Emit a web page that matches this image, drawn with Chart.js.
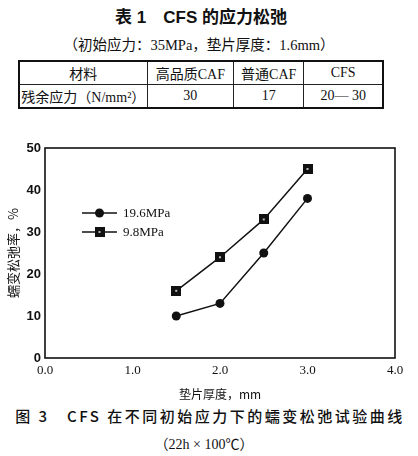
<!DOCTYPE html>
<html>
<head>
<meta charset="utf-8">
<script src="https://cdn.jsdelivr.net/npm/chart.js@4"></script>
<style>
  body { margin: 0; background: #fff; width: 418px; height: 456px; position: relative; overflow: hidden;
         font-family: "Liberation Serif", "Noto Sans CJK SC", serif; color: #111; }
  .t { position: absolute; left: 0; width: 418px; text-align: center; white-space: nowrap; }
  #tabTitle { top: 3px; left: -8px; font: 700 17px "Liberation Sans", "Noto Sans CJK SC", sans-serif; }
  #tabSub { top: 33px; left: -10px; font-size: 14.5px; }
  table { position: absolute; left: 18px; top: 60px; width: 366px; border-collapse: collapse; font-size: 14px; }
  td { border: 1px solid #222; height: 22px; padding: 0; text-align: center; white-space: nowrap; }
  tr:first-child td { border-top: 2px solid #111; }
  tr:last-child td { border-bottom: 2px solid #111; }
  td:first-child { border-left: 2px solid #111; }
  td:last-child { border-right: 2px solid #111; }
  #wrap { position: absolute; left: 0; top: 130px; width: 418px; height: 272px; }
  #cap1 { top: 405px; left: 1px; font: 500 15px "Noto Sans CJK SC", sans-serif; letter-spacing: 2.5px; }
  #cap2 { top: 433px; left: -5px; font-size: 14px; }
</style>
</head>
<body>
<div class="t" id="tabTitle">表 1　CFS 的应力松弛</div>
<div class="t" id="tabSub">（初始应力：35MPa，垫片厚度：1.6mm）</div>
<table id="tab"></table>
<div id="wrap"><canvas id="chart"></canvas></div>
<div class="t" id="cap1">图 3　CFS 在不同初始应力下的蠕变松弛试验曲线</div>
<div class="t" id="cap2">（22h × 100℃）</div>
<script>
// table 1
var tableHead = ['材料', '高品质CAF', '普通CAF', 'CFS'];
var tableRow = ['残余应力（N/mm²）', '30', '17', '20— 30'];
var colWidths = [127, 87, 71, 81];

// figure 3
var thickness = [1.5, 2.0, 2.5, 3.0];
var relax196 = [10, 13, 25, 38];
var relax98 = [16, 24, 33, 45];
var seriesNames = ['19.6MPa', '9.8MPa'];

document.addEventListener("DOMContentLoaded", function() {
    var tab = document.getElementById('tab');
    [tableHead, tableRow].forEach(function(row) {
        var tr = document.createElement('tr');
        row.forEach(function(txt, i) {
            var td = document.createElement('td');
            td.textContent = txt;
            td.style.width = colWidths[i] + 'px';
            tr.appendChild(td);
        });
        tab.appendChild(tr);
    });

    // dark square marker with a small light centre
    var sq = document.createElement('canvas');
    sq.width = 10; sq.height = 10;
    var g = sq.getContext('2d');
    g.fillStyle = '#111';
    g.fillRect(0, 0, 10, 10);
    g.fillStyle = '#bbb';
    g.fillRect(4, 4, 2, 2);

    function pts(ys) {
        return thickness.map(function(x, i) { return { x: x, y: ys[i] }; });
    }

    var frame = {
        id: 'frame',
        afterDraw: function(chart) {
            var a = chart.chartArea, ctx = chart.ctx;
            ctx.save();
            ctx.strokeStyle = '#111';
            ctx.lineWidth = 1.6;
            ctx.strokeRect(a.left, a.top, a.right - a.left, a.bottom - a.top);

            // legend inside the plot
            ctx.font = '13px "Liberation Serif", serif';
            ctx.textBaseline = 'middle';
            chart.data.datasets.forEach(function(ds, i) {
                var y = 83 + i * 19, x0 = 82, x1 = 117, xm = (x0 + x1) / 2;
                ctx.lineWidth = 1.5;
                ctx.beginPath();
                ctx.moveTo(x0, y); ctx.lineTo(x1, y);
                ctx.stroke();
                if (ds.pointStyle === 'circle') {
                    ctx.fillStyle = '#111';
                    ctx.beginPath();
                    ctx.arc(xm, y, ds.pointRadius, 0, Math.PI * 2);
                    ctx.fill();
                } else {
                    ctx.drawImage(ds.pointStyle, xm - 5, y - 5);
                }
                ctx.fillStyle = '#111';
                ctx.fillText(ds.label, 123, y + 1);
            });
            ctx.restore();
        }
    };

    new Chart(document.getElementById('chart'), {
        type: 'line',
        data: {
            datasets: [
                {
                    label: seriesNames[0],
                    data: pts(relax196),
                    borderColor: '#111',
                    borderWidth: 1.5,
                    backgroundColor: '#111',
                    pointStyle: 'circle',
                    pointRadius: 4.5,
                    pointBorderWidth: 0
                },
                {
                    label: seriesNames[1],
                    data: pts(relax98),
                    borderColor: '#111',
                    borderWidth: 1.5,
                    backgroundColor: '#111',
                    pointStyle: sq,
                    pointRadius: 5
                }
            ]
        },
        options: {
            responsive: true,
            maintainAspectRatio: false,
            animation: false,
            clip: false,
            layout: { padding: { top: 18, right: 23, left: 0, bottom: 0 } },
            plugins: { legend: { display: false }, tooltip: { enabled: false } },
            scales: {
                x: {
                    type: 'linear',
                    min: 0, max: 4,
                    grid: { display: false, drawTicks: false },
                    border: { display: false },
                    afterFit: function(s) { s.height = 44; },
                    ticks: {
                        stepSize: 1,
                        padding: 5,
                        color: '#111',
                        font: { family: '"Liberation Serif", serif', size: 13 },
                        callback: function(v) { return v.toFixed(1); }
                    },
                    title: {
                        display: true,
                        text: '垫片厚度，mm',
                        color: '#111',
                        font: { family: '"Noto Sans CJK SC", sans-serif', size: 12 },
                        padding: { top: 0, bottom: 0 }
                    }
                },
                y: {
                    min: 0, max: 50,
                    grid: { display: false, drawTicks: false },
                    border: { display: false },
                    afterFit: function(s) { s.width = 45; },
                    ticks: {
                        stepSize: 10,
                        padding: 4,
                        color: '#111',
                        font: { family: '"Liberation Sans", sans-serif', size: 13, weight: 'bold' }
                    },
                    title: {
                        display: true,
                        text: '蠕变松弛率，%',
                        color: '#111',
                        font: { family: '"Noto Sans CJK SC", sans-serif', size: 13 },
                        padding: { top: 5, bottom: 0 }
                    }
                }
            }
        },
        plugins: [frame]
    });
});
</script>
</body>
</html>
